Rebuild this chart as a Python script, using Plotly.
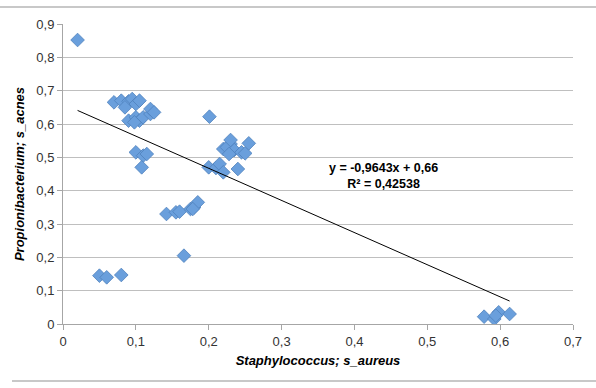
import plotly.graph_objects as go

# Data
s_aureus = [0.020,
            0.070, 0.080, 0.090, 0.095, 0.100, 0.105, 0.085, 0.090, 0.100, 0.105,
            0.110, 0.120, 0.120, 0.125, 0.098,
            0.100, 0.110, 0.115, 0.108,
            0.050, 0.060, 0.080,
            0.142, 0.155, 0.160, 0.175, 0.180, 0.185, 0.178,
            0.166,
            0.201,
            0.200, 0.210, 0.215, 0.220, 0.240,
            0.220, 0.230, 0.225, 0.235, 0.245, 0.250, 0.255, 0.230, 0.228,
            0.578, 0.592, 0.598, 0.613, 0.594]
s_acnes = [0.852,
           0.665, 0.670, 0.668, 0.675, 0.660, 0.670, 0.650, 0.610, 0.620, 0.610,
           0.620, 0.630, 0.645, 0.635, 0.605,
           0.515, 0.505, 0.510, 0.470,
           0.145, 0.140, 0.147,
           0.330, 0.335, 0.337, 0.345, 0.350, 0.365, 0.345,
           0.205,
           0.622,
           0.470, 0.468, 0.480, 0.455, 0.465,
           0.525, 0.540, 0.530, 0.522, 0.515, 0.512, 0.542, 0.552, 0.510,
           0.022, 0.015, 0.035, 0.030, 0.025]

slope = -0.9643
intercept = 0.66
r2_label = "0,42538"
trend_x = [min(s_aureus), max(s_aureus)]
trend_y = [slope * v + intercept for v in trend_x]

x_ticks = [0, 0.1, 0.2, 0.3, 0.4, 0.5, 0.6, 0.7]
y_ticks = [0, 0.1, 0.2, 0.3, 0.4, 0.5, 0.6, 0.7, 0.8, 0.9]

font_family = "Liberation Sans, Arial, sans-serif"

fig = go.Figure()
fig.add_trace(go.Scatter(
    x=s_aureus, y=s_acnes, mode="markers",
    marker=dict(symbol="diamond", size=10.5, color="#6a9fdc",
                line=dict(color="#4f81bd", width=0.8)),
    showlegend=False, hoverinfo="x+y"))
fig.add_trace(go.Scatter(
    x=trend_x, y=trend_y, mode="lines",
    line=dict(color="#000000", width=1),
    showlegend=False, hoverinfo="skip"))

fig.add_annotation(
    x=0.44, y=0.444, xref="x", yref="y",
    text="<b>y = -0,9643x + 0,66</b><br><b>R² = 0,42538</b>",
    showarrow=False, align="center",
    font=dict(family=font_family, size=12.5, color="#000000"))

# chart frame lines (top and bottom)
fig.add_shape(type="line", xref="paper", yref="paper",
              x0=-0.2, x1=1.1, y0=1.057, y1=1.057,
              line=dict(color="#c8c8c8", width=2))
fig.add_shape(type="line", xref="paper", yref="paper",
              x0=-0.1, x1=1.1, y0=-0.19, y1=-0.19,
              line=dict(color="#c8c8c8", width=2))

fig.update_layout(
    width=596, height=388,
    margin=dict(l=63, r=23, t=24, b=64),
    paper_bgcolor="white", plot_bgcolor="white",
    separators=", ",
    font=dict(family=font_family, size=13, color="#333333"),
    xaxis=dict(
        range=[0, 0.7], tickvals=x_ticks, showgrid=False, zeroline=False,
        showline=True, linecolor="#a6a6a6", linewidth=1,
        ticks="outside", ticklen=5, tickcolor="#a6a6a6",
        title=dict(text="<b><i>Staphylococcus; s_aureus</i></b>",
                   font=dict(size=13, color="#000000"), standoff=8),
        fixedrange=True),
    yaxis=dict(
        range=[0, 0.9], tickvals=y_ticks, showgrid=True, gridcolor="#bfbfbf",
        gridwidth=1, zeroline=False,
        showline=True, linecolor="#a6a6a6", linewidth=1,
        ticks="outside", ticklen=5, tickcolor="#a6a6a6",
        title=dict(text="<b><i>Propionibacterium; s_acnes</i></b>",
                   font=dict(size=13, color="#000000"), standoff=8),
        fixedrange=True),
)

fig.write_html("out.html")
